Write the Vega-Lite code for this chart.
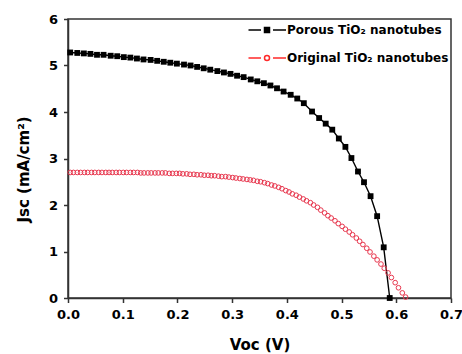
{
  "$schema": "https://vega.github.io/schema/vega-lite/v6.json",
  "width": 383,
  "height": 279,
  "autosize": {"type": "none"},
  "padding": {"left": 68, "top": 19, "right": 11, "bottom": 56},
  "background": "white",
  "config": {
    "view": {"stroke": "#333333", "strokeWidth": 1.5},
    "font": "DejaVu Sans"
  },
  "datasets": {
    "porous": [
      {"v": 0.004, "j": 5.28}, {"v": 0.017, "j": 5.27}, {"v": 0.029, "j": 5.26}, {"v": 0.041, "j": 5.25},
      {"v": 0.053, "j": 5.23}, {"v": 0.065, "j": 5.23}, {"v": 0.078, "j": 5.21}, {"v": 0.090, "j": 5.20},
      {"v": 0.102, "j": 5.18}, {"v": 0.114, "j": 5.17}, {"v": 0.126, "j": 5.15}, {"v": 0.138, "j": 5.13},
      {"v": 0.151, "j": 5.12}, {"v": 0.163, "j": 5.10}, {"v": 0.175, "j": 5.08}, {"v": 0.187, "j": 5.06},
      {"v": 0.199, "j": 5.04}, {"v": 0.212, "j": 5.02}, {"v": 0.224, "j": 5.00}, {"v": 0.236, "j": 4.97},
      {"v": 0.248, "j": 4.94}, {"v": 0.260, "j": 4.91}, {"v": 0.273, "j": 4.88}, {"v": 0.285, "j": 4.85},
      {"v": 0.297, "j": 4.82}, {"v": 0.309, "j": 4.78}, {"v": 0.321, "j": 4.75}, {"v": 0.334, "j": 4.70},
      {"v": 0.346, "j": 4.66}, {"v": 0.358, "j": 4.62}, {"v": 0.370, "j": 4.57}, {"v": 0.382, "j": 4.51},
      {"v": 0.394, "j": 4.44}, {"v": 0.407, "j": 4.37}, {"v": 0.419, "j": 4.29}, {"v": 0.431, "j": 4.19},
      {"v": 0.446, "j": 4.01}, {"v": 0.459, "j": 3.87}, {"v": 0.471, "j": 3.75}, {"v": 0.483, "j": 3.62},
      {"v": 0.495, "j": 3.43}, {"v": 0.507, "j": 3.25}, {"v": 0.518, "j": 3.01}, {"v": 0.530, "j": 2.72},
      {"v": 0.541, "j": 2.49}, {"v": 0.553, "j": 2.19}, {"v": 0.565, "j": 1.76}, {"v": 0.577, "j": 1.09},
      {"v": 0.588, "j": 0.00}
    ],
    "original": [
      {"v": 0.004, "j": 2.70}, {"v": 0.010, "j": 2.70}, {"v": 0.017, "j": 2.70}, {"v": 0.023, "j": 2.70},
      {"v": 0.030, "j": 2.70}, {"v": 0.036, "j": 2.70}, {"v": 0.043, "j": 2.70}, {"v": 0.049, "j": 2.70},
      {"v": 0.056, "j": 2.70}, {"v": 0.062, "j": 2.70}, {"v": 0.069, "j": 2.70}, {"v": 0.075, "j": 2.70},
      {"v": 0.081, "j": 2.70}, {"v": 0.088, "j": 2.70}, {"v": 0.094, "j": 2.70}, {"v": 0.101, "j": 2.70},
      {"v": 0.107, "j": 2.70}, {"v": 0.114, "j": 2.70}, {"v": 0.120, "j": 2.70}, {"v": 0.127, "j": 2.70},
      {"v": 0.133, "j": 2.69}, {"v": 0.139, "j": 2.69}, {"v": 0.146, "j": 2.69}, {"v": 0.152, "j": 2.69},
      {"v": 0.159, "j": 2.69}, {"v": 0.165, "j": 2.69}, {"v": 0.172, "j": 2.69}, {"v": 0.178, "j": 2.69},
      {"v": 0.185, "j": 2.68}, {"v": 0.191, "j": 2.68}, {"v": 0.198, "j": 2.68}, {"v": 0.204, "j": 2.68},
      {"v": 0.210, "j": 2.67}, {"v": 0.217, "j": 2.67}, {"v": 0.223, "j": 2.66}, {"v": 0.230, "j": 2.66},
      {"v": 0.236, "j": 2.65}, {"v": 0.243, "j": 2.65}, {"v": 0.249, "j": 2.64}, {"v": 0.256, "j": 2.64},
      {"v": 0.262, "j": 2.63}, {"v": 0.268, "j": 2.63}, {"v": 0.275, "j": 2.62}, {"v": 0.281, "j": 2.61},
      {"v": 0.288, "j": 2.61}, {"v": 0.294, "j": 2.60}, {"v": 0.301, "j": 2.59}, {"v": 0.307, "j": 2.58},
      {"v": 0.314, "j": 2.57}, {"v": 0.320, "j": 2.56}, {"v": 0.327, "j": 2.55}, {"v": 0.333, "j": 2.54},
      {"v": 0.339, "j": 2.53}, {"v": 0.346, "j": 2.51}, {"v": 0.352, "j": 2.50}, {"v": 0.359, "j": 2.48},
      {"v": 0.365, "j": 2.46}, {"v": 0.372, "j": 2.43}, {"v": 0.378, "j": 2.41}, {"v": 0.385, "j": 2.38},
      {"v": 0.391, "j": 2.35}, {"v": 0.398, "j": 2.31}, {"v": 0.404, "j": 2.28}, {"v": 0.410, "j": 2.24},
      {"v": 0.417, "j": 2.21}, {"v": 0.423, "j": 2.17}, {"v": 0.430, "j": 2.13}, {"v": 0.436, "j": 2.09},
      {"v": 0.443, "j": 2.05}, {"v": 0.449, "j": 2.00}, {"v": 0.456, "j": 1.95}, {"v": 0.462, "j": 1.89},
      {"v": 0.469, "j": 1.83}, {"v": 0.475, "j": 1.77}, {"v": 0.481, "j": 1.72}, {"v": 0.488, "j": 1.66},
      {"v": 0.494, "j": 1.60}, {"v": 0.501, "j": 1.54}, {"v": 0.507, "j": 1.48}, {"v": 0.514, "j": 1.42},
      {"v": 0.520, "j": 1.36}, {"v": 0.527, "j": 1.29}, {"v": 0.533, "j": 1.22}, {"v": 0.539, "j": 1.15},
      {"v": 0.546, "j": 1.07}, {"v": 0.552, "j": 0.99}, {"v": 0.559, "j": 0.90}, {"v": 0.565, "j": 0.82},
      {"v": 0.572, "j": 0.73}, {"v": 0.578, "j": 0.64}, {"v": 0.585, "j": 0.54}, {"v": 0.591, "j": 0.44},
      {"v": 0.598, "j": 0.33}, {"v": 0.604, "j": 0.22}, {"v": 0.611, "j": 0.11}, {"v": 0.617, "j": 0.02}
    ]
  },
  "layer": [
    {
      "data": {"name": "porous"},
      "mark": {"type": "line", "color": "black", "strokeWidth": 1.4},
      "encoding": {
        "x": {
          "field": "v", "type": "quantitative",
          "scale": {"domain": [0, 0.7], "nice": false, "zero": false},
          "axis": {
            "orient": "bottom",
            "title": "Voc (V)", "values": [0, 0.05, 0.1, 0.15, 0.2, 0.25, 0.3, 0.35, 0.4, 0.45, 0.5, 0.55, 0.6, 0.65, 0.7],
            "labelExpr": "abs(datum.value * 10 - round(datum.value * 10)) > 0.01 ? '' : format(datum.value, '.1f')",
            "grid": false, "domainColor": "#333333", "domainWidth": 1.5,
            "tickColor": "#333333", "tickWidth": 1.5,
            "tickSize": {"condition": {"test": "abs(datum.value * 10 - round(datum.value * 10)) > 0.01", "value": 3}, "value": 4.5},
            "labelFont": "DejaVu Sans", "labelFontSize": 13, "labelFontWeight": "bold", "labelColor": "black",
            "labelPadding": 6, "labelFlush": false, "labelOverlap": false,
            "titleFont": "DejaVu Sans", "titleFontSize": 15, "titleFontWeight": "bold", "titleColor": "black",
            "titlePadding": 16
          }
        },
        "y": {
          "field": "j", "type": "quantitative",
          "scale": {"domain": [0, 6], "nice": false},
          "axis": {
            "orient": "left",
            "title": "Jsc (mA/cm²)", "values": [0, 0.5, 1, 1.5, 2, 2.5, 3, 3.5, 4, 4.5, 5, 5.5, 6],
            "labelExpr": "datum.value % 1 ? '' : datum.label",
            "grid": false, "domainColor": "#333333", "domainWidth": 1.5,
            "tickColor": "#333333", "tickWidth": 1.5,
            "tickSize": {"condition": {"test": "datum.value % 1", "value": 3}, "value": 4.5},
            "labelFont": "DejaVu Sans", "labelFontSize": 13, "labelFontWeight": "bold", "labelColor": "black",
            "labelPadding": 6, "labelOverlap": false,
            "titleFont": "DejaVu Sans", "titleFontSize": 15, "titleFontWeight": "bold", "titleColor": "black",
            "titlePadding": 17, "titleY": 150
          }
        }
      }
    },
    {
      "data": {"name": "porous"},
      "mark": {"type": "point", "shape": "square", "filled": true, "color": "black", "size": 34, "opacity": 1},
      "encoding": {
        "x": {"field": "v", "type": "quantitative"},
        "y": {"field": "j", "type": "quantitative"}
      }
    },
    {
      "data": {"name": "original"},
      "mark": {"type": "point", "shape": "circle", "filled": false, "color": "#e8384f", "size": 22, "strokeWidth": 1, "opacity": 1},
      "encoding": {
        "x": {"field": "v", "type": "quantitative"},
        "y": {"field": "j", "type": "quantitative"}
      }
    },
    {
      "data": {"values": [{"series": "Porous TiO₂ nanotubes"}, {"series": "Original TiO₂ nanotubes"}]},
      "mark": {"type": "point", "opacity": 0, "size": 100, "filled": false, "strokeWidth": 1.5},
      "encoding": {
        "color": {
          "field": "series", "type": "nominal",
          "scale": {"domain": ["Porous TiO₂ nanotubes", "Original TiO₂ nanotubes"], "range": ["black", "#ff2a2a"]},
          "legend": {
            "title": null, "orient": "none", "legendX": 193, "legendY": 5, "padding": 0,
            "labelFont": "DejaVu Sans", "labelFontSize": 12, "labelFontWeight": "bold", "labelColor": "black",
            "labelOffset": 14, "labelLimit": 400, "rowPadding": 16, "symbolSize": 100, "symbolOpacity": 1, "symbolStrokeWidth": 1.5
          }
        },
        "fill": {
          "field": "series", "type": "nominal",
          "scale": {"domain": ["Porous TiO₂ nanotubes", "Original TiO₂ nanotubes"], "range": ["black", "white"]}
        },
        "shape": {
          "field": "series", "type": "nominal",
          "scale": {"domain": ["Porous TiO₂ nanotubes", "Original TiO₂ nanotubes"], "range": ["M-3.7,0H-1.2M1.2,0H3.8M-0.5,-0.5H0.5V0.5H-0.5Z", "M-3.7,0H-1.2M1.2,0H3.8M0.5,0A0.5,0.5,0,1,1,-0.5,0A0.5,0.5,0,1,1,0.5,0"]}
        }
      }
    }
  ]
}
